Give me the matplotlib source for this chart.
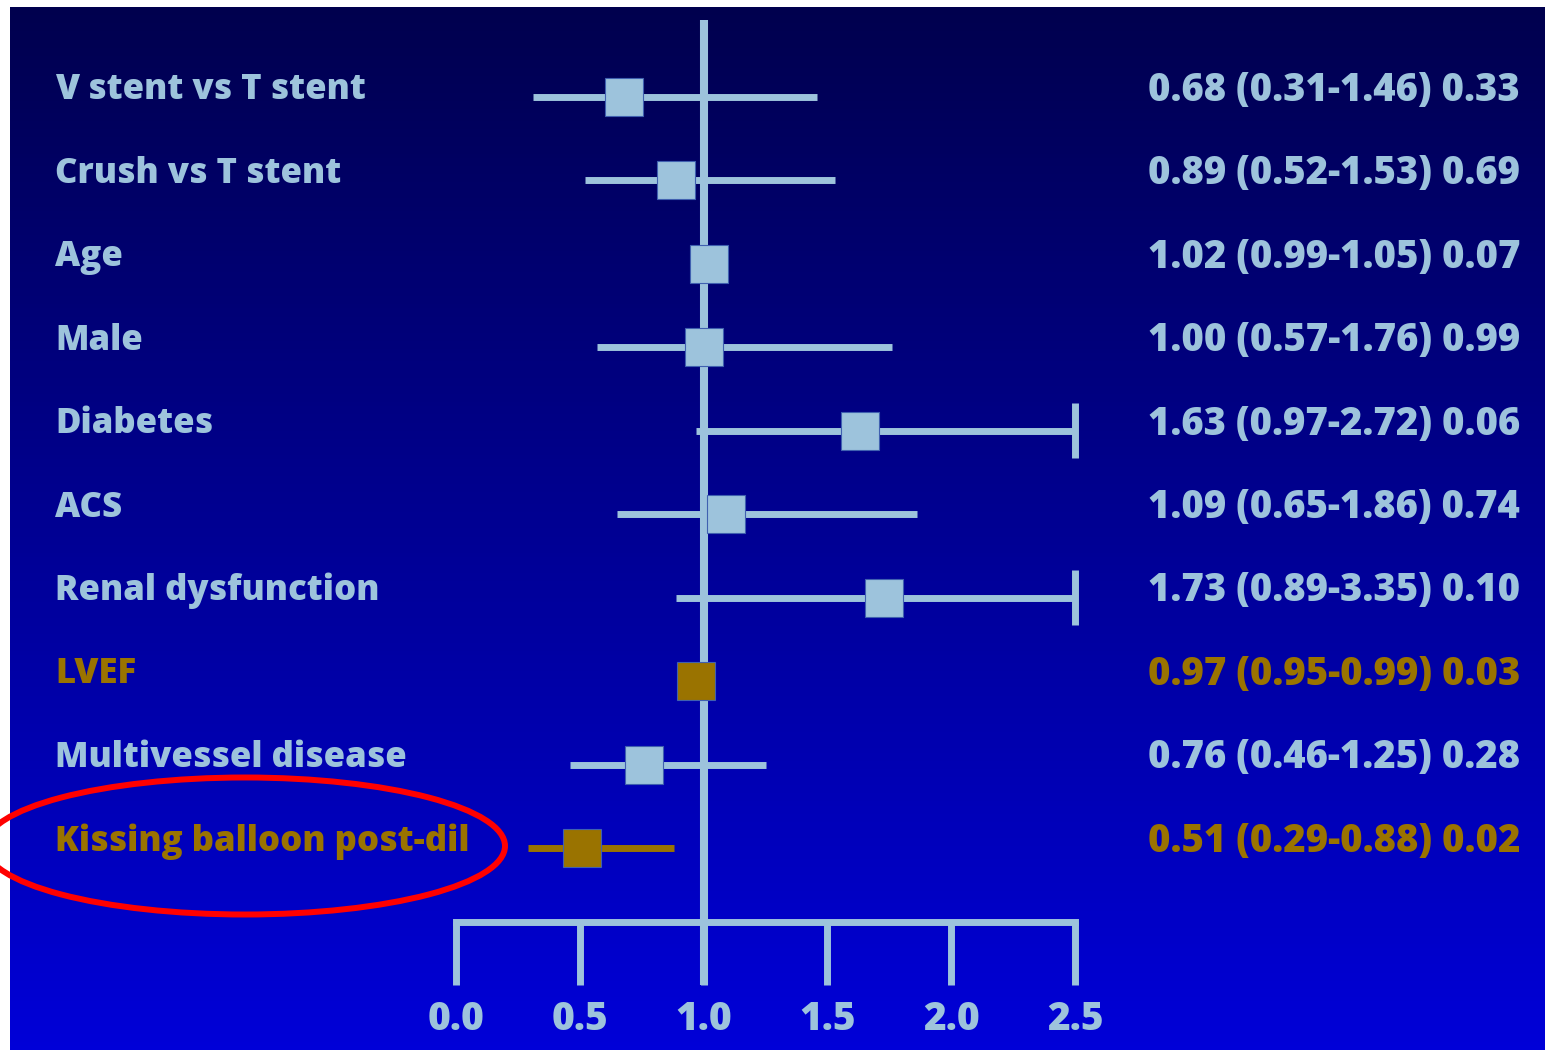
import numpy as np
import matplotlib
matplotlib.use('Agg')
import matplotlib.pyplot as plt
from matplotlib.patches import Ellipse

labels = ['V stent vs T stent', 'Crush vs T stent', 'Age', 'Male', 'Diabetes', 'ACS',
          'Renal dysfunction', 'LVEF', 'Multivessel disease', 'Kissing balloon post-dil']
hr = [0.68, 0.89, 1.02, 1.00, 1.63, 1.09, 1.73, 0.97, 0.76, 0.51]
ci_low = [0.31, 0.52, 0.99, 0.57, 0.97, 0.65, 0.89, 0.95, 0.46, 0.29]
ci_high = [1.46, 1.53, 1.05, 1.76, 2.72, 1.86, 3.35, 0.99, 1.25, 0.88]
p_values = [0.33, 0.69, 0.07, 0.99, 0.06, 0.74, 0.10, 0.03, 0.28, 0.02]
significant = [False, False, False, False, False, False, False, True, False, True]
x_ticks = [0.0, 0.5, 1.0, 1.5, 2.0, 2.5]

light = '#9DC3DC'
gold = '#9A7300'
plt.rcParams['font.family'] = ['Open Sans', 'DejaVu Sans']
FW = 800

W, H = 1545, 1050
fig = plt.figure(figsize=(W / 100, H / 100), dpi=100)
fig.patch.set_facecolor('white')

# vertical navy -> blue gradient background
bg = fig.add_axes([10 / W, 0, 1 - 10 / W, 1 - 7 / H])
grad = np.linspace(0, 1, 256)[:, None]
top = np.array([0x00, 0x00, 0x4E]) / 255
bot = np.array([0x00, 0x00, 0xD8]) / 255
img = top + (bot - top) * grad[:, :, None]
bg.imshow(img, aspect='auto', extent=[0, 1, 0, 1], origin='upper')
bg.set_axis_off()

ax = fig.add_axes([0, 0, 1, 1])
ax.patch.set_alpha(0)
ax.set_axis_off()
ppu = (1075 - 456) / 2.5
ax.set_xlim(-456 / ppu, (W - 456) / ppu)
row = (848 - 97) / 9
ax.set_ylim((H - 97) / row, -97 / row)

xmax = x_ticks[-1]
for i in range(len(labels)):
    c = gold if significant[i] else light
    lo, hi = ci_low[i], min(ci_high[i], xmax)
    ax.plot([lo, hi], [i, i], color=c, lw=5, solid_capstyle='butt', zorder=3)
    if ci_high[i] > xmax:
        ax.plot([xmax, xmax], [i - 0.33, i + 0.33], color=c, lw=5, solid_capstyle='butt', zorder=3)
    ax.plot(hr[i], i, marker='s', ms=28, color=c, mec='#4060B0', mew=0.8, zorder=4)
    ax.text(55 / W, i - 0.08, labels[i], transform=ax.get_yaxis_transform(),
            color=c, fontsize=25, fontweight=FW, ha='left', va='center')
    ax.text(1520 / W, i - 0.08, f'{hr[i]:.2f} ({ci_low[i]:.2f}-{ci_high[i]:.2f}) {p_values[i]:.2f}',
            transform=ax.get_yaxis_transform(),
            color=c, fontsize=27.5, fontweight=FW, ha='right', va='center')

# line of no effect and the hand-drawn style axis
axis_y = (922 - 97) / row
tick_end = (985 - 97) / row
ax.plot([1.0, 1.0], [(20 - 97) / row, tick_end], color=light, lw=5.8, solid_capstyle='butt', zorder=2)
ax.plot([x_ticks[0], x_ticks[-1]], [axis_y, axis_y], color=light, lw=5, solid_capstyle='projecting', zorder=2)
for t in x_ticks:
    ax.plot([t, t], [axis_y, tick_end], color=light, lw=5, solid_capstyle='butt', zorder=2)
    ax.text(t, (1020 - 97) / row, f'{t:.1f}', color=light, fontsize=28, fontweight=FW,
            ha='center', va='center')

ax.add_patch(Ellipse(((245 - 456) / ppu, (846 - 97) / row), 520 / ppu, 137 / row,
                     fill=False, ec='#FF0000', lw=4.3, clip_on=False, zorder=5))

fig.savefig('out.png', dpi=100)
